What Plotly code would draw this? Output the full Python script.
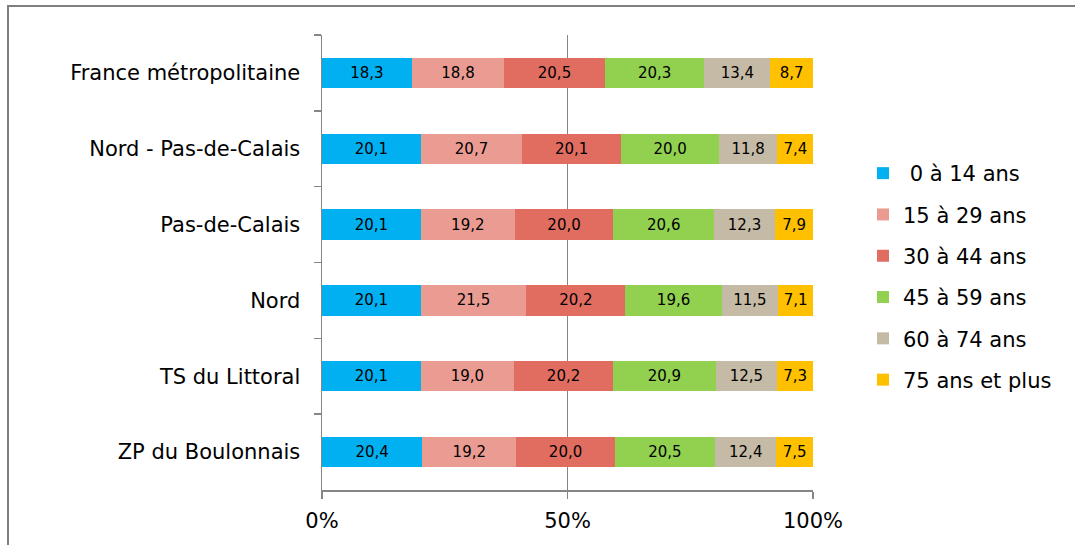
import plotly.graph_objects as go

categories = ["France métropolitaine", "Nord - Pas-de-Calais", "Pas-de-Calais",
              "Nord", "TS du Littoral", "ZP du Boulonnais"]
series_names = [" 0 à 14 ans", "15 à 29 ans", "30 à 44 ans", "45 à 59 ans",
                "60 à 74 ans", "75 ans et plus"]
age_0_14 = [18.3, 20.1, 20.1, 20.1, 20.1, 20.4]
age_15_29 = [18.8, 20.7, 19.2, 21.5, 19.0, 19.2]
age_30_44 = [20.5, 20.1, 20.0, 20.2, 20.2, 20.0]
age_45_59 = [20.3, 20.0, 20.6, 19.6, 20.9, 20.5]
age_60_74 = [13.4, 11.8, 12.3, 11.5, 12.5, 12.4]
age_75_plus = [8.7, 7.4, 7.9, 7.1, 7.3, 7.5]
x_ticks = [0, 50, 100]

series_values = [age_0_14, age_15_29, age_30_44, age_45_59, age_60_74, age_75_plus]
colors = ["#00B0F0", "#EA9C92", "#E06D60", "#92D050", "#C5BAA5", "#FFC000"]

FONT = "DejaVu Sans"

fig = go.Figure()
for i, (name, vals, col) in enumerate(zip(series_names, series_values, colors)):
    fig.add_trace(go.Bar(
        y=categories, x=vals, name=name, orientation="h",
        marker=dict(color=col, line=dict(width=0)),
        text=[f"{v:.1f}".replace(".", ",") for v in vals],
        textposition="inside", insidetextanchor="middle", textangle=0,
        textfont=dict(family=FONT, size=15, color="#000000"),
        constraintext="none",
        legendgroup=f"g{i}",
        hoverinfo="skip",
    ))

W, H = 1075, 545
L, R, T, B = 322, 813, 35, 490

fig.update_layout(
    width=W, height=H,
    barmode="stack", bargap=0.6,
    paper_bgcolor="white", plot_bgcolor="white",
    margin=dict(l=L, r=W - R, t=T, b=H - B, autoexpand=False),
    font=dict(family=FONT, size=21, color="#000000"),
    showlegend=True,
    legend=dict(
        xref="container", yref="container",
        x=863 / W, xanchor="left",
        y=1 - 153 / H, yanchor="top",
        traceorder="grouped", tracegroupgap=11,
        font=dict(family=FONT, size=21, color="#000000"),
        bgcolor="rgba(0,0,0,0)",
    ),
    xaxis=dict(
        range=[0, 100], tickvals=x_ticks, ticktext=[f"{v}%" for v in x_ticks],
        showgrid=True, gridcolor="#868686", gridwidth=1.5,
        showline=True, linecolor="#868686", linewidth=1.5,
        ticks="outside", ticklen=7, tickcolor="#868686", tickwidth=1.5,
        zeroline=False, fixedrange=True, ticklabelstandoff=4,
        tickfont=dict(family=FONT, size=21, color="#000000"),
    ),
    yaxis=dict(
        autorange="reversed", type="category",
        showline=True, linecolor="#868686", linewidth=1.5,
        ticks="outside", ticklen=7, tickcolor="#868686", tickwidth=1.5,
        tickson="boundaries", showgrid=False, zeroline=False,
        ticklabelstandoff=16, fixedrange=True,
        tickfont=dict(family=FONT, size=21, color="#000000"),
    ),
    shapes=[dict(
        type="rect", xref="paper", yref="paper",
        x0=(8 - L) / (R - L), x1=(1085 - L) / (R - L),
        y0=(B - 555) / (B - T), y1=(B - 6) / (B - T),
        line=dict(color="#7F7F7F", width=2), fillcolor="rgba(0,0,0,0)",
        layer="below",
    )],
)

fig.write_html(
    "out.html",
    config={"displayModeBar": False, "staticPlot": True},
    post_script="document.body.style.margin='0';document.body.style.overflow='hidden';",
)
